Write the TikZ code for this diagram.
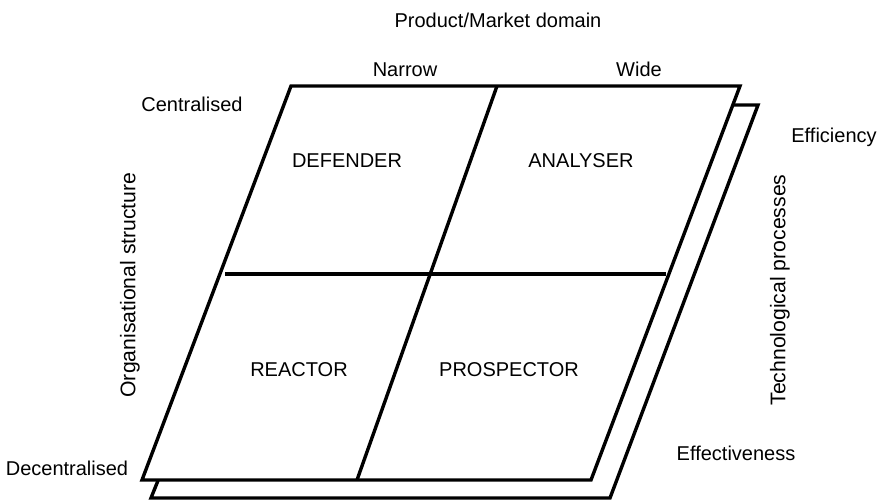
\documentclass[tikz,border=0pt]{standalone}
\usepackage{fontspec}
\setmainfont{Liberation Sans}
\begin{document}
\begin{tikzpicture}[x=1pt,y=-1pt,
  frame/.style={line width=3.4pt, fill=white, line join=miter},
  divider/.style={line width=3.4pt},
  lbl/.style={font=\fontsize{20}{24}\selectfont, inner sep=0pt, anchor=base},
  vlbl/.style={font=\fontsize{21.2}{25}\selectfont, inner sep=0pt, rotate=90}]
\useasboundingbox (0,0) rectangle (877,500);
% back plane
\coordinate (bBL) at (151,498);
\coordinate (bBR) at (610,498);
\coordinate (bTR) at (758,105);
\coordinate (bTL) at (309,105);
\draw[frame] (bBL) -- (bBR) -- (bTR) -- (bTL) -- cycle;
% front plane
\coordinate (fBL) at (142,480);
\coordinate (fBR) at (591,480);
\coordinate (fTR) at (740,86);
\coordinate (fTL) at (291,86);
\draw[frame] (fBL) -- (fBR) -- (fTR) -- (fTL) -- cycle;
% dividers
\coordinate (dT) at (497,86);
\coordinate (dB) at (357,480);
\coordinate (hL) at (225,274);
\coordinate (hR) at (666,274);
\draw[divider] (dT) -- (dB);
\draw[divider] (hL) -- (hR);
% labels
\node[lbl] (title) at (498,28) {Product/Market domain};
\node[lbl] (narrow) at (405,77) {Narrow};
\node[lbl] (wide) at (639,77) {Wide};
\node[lbl] (central) at (192,112) {Centralised};
\node[lbl] (decentral) at (67,475) {Decentralised};
\node[lbl] (eff) at (834,142) {Efficiency};
\node[lbl] (effect) at (736,460) {Effectiveness};
\node[lbl] (def) at (347,167) {DEFENDER};
\node[lbl] (ana) at (581,167) {ANALYSER};
\node[lbl] (rea) at (299,376) {REACTOR};
\node[lbl] (pro) at (509,376) {PROSPECTOR};
\node[vlbl] (org) at (130,285) {Organisational structure};
\node[vlbl] (tech) at (780,290) {Technological processes};
\end{tikzpicture}
\end{document}
